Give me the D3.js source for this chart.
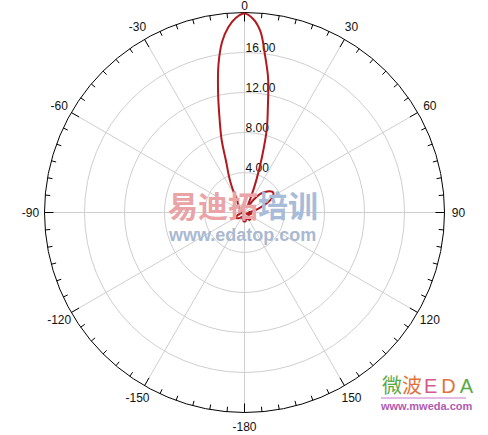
<!DOCTYPE html>
<html>
<head>
<meta charset="utf-8">
<script src="https://cdn.jsdelivr.net/npm/d3@7"></script>
<style>
  body { margin: 0; background: #fff; }
  svg { font: 12px "Liberation Sans", Arial, sans-serif; }
</style>
</head>
<body>
<div id="chart"></div>
<script>
// pattern samples (degrees, value)
const angles = [
  -180, -175, -170, -165, -160, -155, -150, -145, -140, -135, -130, -125,
  -120, -115, -110, -105, -100, -95, -90, -85, -80, -75, -70, -65,
  -60, -55, -50, -45, -40, -35, -30, -27.5, -25, -22.5, -20, -17.5,
  -15, -12.5, -10, -7.5, -5, -2.5, 0, 2.5, 5, 7.5, 10, 12.5,
  15, 17.5, 20, 22.5, 25, 30, 35, 40, 45, 50, 55, 60,
  65, 70, 75, 80, 85, 90, 95, 100, 105, 110, 115, 120,
  125, 130, 135, 140, 145, 150, 155, 160, 165, 170, 175
];
const gain = [
  0.9, 0.9, 0.8, 0.7, 0.6, 0.5, 0.5, 0.6, 0.7, 0.8, 0.9, 1.0,
  1.0, 0.9, 0.7, 0.5, 0.3, 0.2, 0.3, 0.4, 0.5, 0.5, 0.4, 0.3,
  0.3, 0.4, 0.6, 0.8, 1.0, 1.2, 1.5, 2.4, 3.3, 4.2, 5.3, 7.6,
  9.6, 12.2, 15.0, 17.2, 18.6, 19.5, 19.9, 19.4, 18.2, 15.8, 13.6, 10.8,
  8.6, 5.8, 3.5, 1.8, 0.8, 0.6, 1.5, 2.4, 2.9, 3.3, 3.5, 3.3,
  2.8, 2.0, 1.4, 0.9, 0.5, 0.4, 0.6, 0.7, 0.6, 0.4, 0.2, 0.3,
  0.5, 0.7, 0.8, 0.9, 0.9, 0.8, 0.6, 0.5, 0.6, 0.8, 0.9
];
const rings = [4, 8, 12, 16];
const rMax = 20;
const spokes = [-150, -120, -90, -60, -30, 0, 30, 60, 90, 120, 150, 180];
const spokeLabels = ['-150', '-120', '-90', '-60', '-30', '0', '30', '60', '90', '120', '150', '-180'];

const width = 488, height = 435;
const cx = 244.5, cy = 212.5, radius = 200;

const svg = d3.select('#chart').append('svg')
  .attr('width', width)
  .attr('height', height);

const r = d3.scaleLinear().domain([0, rMax]).range([0, radius]);
const a = d3.scaleLinear().domain([-180, 180]).range([-Math.PI, Math.PI]);

const g = svg.append('g').attr('transform', 'translate(' + cx + ',' + cy + ')');

// grid rings
g.selectAll('.ring').data(rings).enter()
  .append('circle')
  .attr('r', d => r(d))
  .attr('fill', 'none')
  .attr('stroke', '#cfcfcf');

// spokes
g.selectAll('.spoke').data(spokes).enter()
  .append('line')
  .attr('x1', 0).attr('y1', 0)
  .attr('x2', d => r(rMax) * Math.sin(a(d)))
  .attr('y2', d => -r(rMax) * Math.cos(a(d)))
  .attr('stroke', '#cfcfcf');

// outer circle
g.append('circle')
  .attr('r', r(rMax))
  .attr('fill', 'none')
  .attr('stroke', '#000');

// ticks every 5 degrees
const tickAngles = d3.range(-180, 180, 5);
g.selectAll('.tick').data(tickAngles).enter()
  .append('line')
  .attr('x1', d => r(rMax) * Math.sin(a(d)))
  .attr('y1', d => -r(rMax) * Math.cos(a(d)))
  .attr('x2', d => (r(rMax) - (d % 30 === 0 ? 9 : 5)) * Math.sin(a(d)))
  .attr('y2', d => -(r(rMax) - (d % 30 === 0 ? 9 : 5)) * Math.cos(a(d)))
  .attr('stroke', '#000');

// angle labels
g.selectAll('.alabel').data(spokes).enter()
  .append('text')
  .attr('x', d => 214 * Math.sin(a(d)))
  .attr('y', d => -(d === 0 ? 207 : 214) * Math.cos(a(d)))
  .attr('text-anchor', 'middle')
  .attr('dominant-baseline', 'central')
  .attr('fill', '#111')
  .text((d, i) => spokeLabels[i]);

// ring labels
g.selectAll('.rlabel').data(rings).enter()
  .append('text')
  .attr('x', 1)
  .attr('y', d => -r(d) - 1)
  .attr('fill', '#111')
  .text(d => d.toFixed(2));

// watermarks
const wm = svg.append('g');
const wmTitle = wm.append('text')
  .attr('x', 168).attr('y', 217)
  .attr('font-family', '"Noto Sans CJK SC", sans-serif')
  .attr('font-weight', 'bold')
  .attr('font-size', 30);
wmTitle.append('tspan').attr('fill', '#eaa3a6').text('易迪拓');
wmTitle.append('tspan').attr('fill', '#a7bcd8').text('培训');
wm.append('text')
  .attr('x', 169).attr('y', 241)
  .attr('font-weight', 'bold')
  .attr('font-size', 18)
  .attr('fill', '#a9b9d1')
  .text('www.edatop.com');

const wm2 = wm.append('text')
  .attr('x', 382).attr('y', 393)
  .attr('font-family', '"Noto Sans CJK SC", sans-serif')
  .attr('font-size', 20);
wm2.append('tspan').attr('fill', '#5aa845').text('微');
wm2.append('tspan').attr('fill', '#e0743a').text('波');
wm2.append('tspan').attr('fill', '#d45a8c').attr('font-family', 'Liberation Sans').attr('dx', 2).text('E');
wm2.append('tspan').attr('fill', '#e0743a').attr('font-family', 'Liberation Sans').attr('dx', 4).text('D');
wm2.append('tspan').attr('fill', '#5aa845').attr('font-family', 'Liberation Sans').attr('dx', 4).text('A');
wm.append('line')
  .attr('x1', 381).attr('x2', 466).attr('y1', 398).attr('y2', 398)
  .attr('stroke', '#c878c8');
wm.append('text')
  .attr('x', 381).attr('y', 410)
  .attr('font-weight', 'bold')
  .attr('font-size', 11)
  .attr('fill', '#b05ab0')
  .text('www.mweda.com');

// pattern
const pts = angles.map((d, i) => [a(d), r(gain[i])]);
const line = d3.lineRadial()
  .angle(d => d[0])
  .radius(d => d[1])
  .curve(d3.curveCatmullRomClosed);

g.append('path')
  .datum(pts)
  .attr('d', line)
  .attr('fill', 'none')
  .attr('stroke', '#b0191e')
  .attr('stroke-width', 2);
</script>
</body>
</html>
